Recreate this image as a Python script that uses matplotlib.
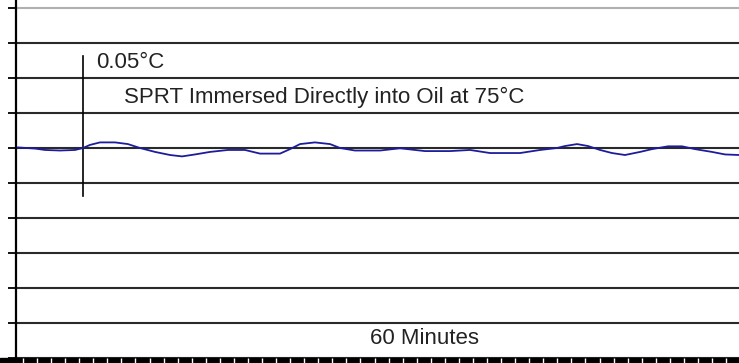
import numpy as np
import matplotlib
matplotlib.use('Agg')
import matplotlib.pyplot as plt
from matplotlib.patches import Rectangle

plt.rcParams['font.family'] = ['Liberation Sans', 'DejaVu Sans']

# SPRT reading over one hour (minutes, deg C)
minutes = [0.17, 1.58, 2.41, 3.65, 4.90, 5.56, 6.14, 6.97, 8.22, 9.29,
           10.29, 11.54, 12.78, 13.78, 14.86, 16.10, 17.59, 19.00, 20.25, 21.91,
           22.74, 23.57, 24.81, 26.06, 26.89, 28.13, 30.21, 31.87, 33.94, 36.02,
           37.68, 39.34, 41.83, 43.49, 44.90, 45.56, 46.56, 47.47, 48.47, 49.46,
           50.54, 51.79, 52.78, 54.11, 55.27, 56.35, 57.76, 58.84, 60.00]
temp = [75.0002, 74.9998, 74.9993, 74.9991, 74.9993, 75.0000, 75.0011, 75.0020, 75.0020, 75.0014,
        75.0000, 74.9986, 74.9975, 74.9970, 74.9977, 74.9986, 74.9993, 74.9993, 74.9980, 74.9980,
        74.9996, 75.0014, 75.0020, 75.0014, 75.0000, 74.9991, 74.9991, 74.9999, 74.9989, 74.9989,
        74.9993, 74.9982, 74.9982, 74.9993, 75.0000, 75.0007, 75.0014, 75.0007, 74.9993, 74.9982,
        74.9975, 74.9986, 74.9996, 75.0006, 75.0006, 74.9996, 74.9986, 74.9977, 74.9975]

grid_levels = [74.925, 74.9375, 74.95, 74.9625, 74.975, 74.9875, 75.0,
               75.0125, 75.025, 75.0375, 75.05]
scale_bar = [74.983, 75.033]   # 0.05 C
scale_x = 5.56

fig = plt.figure(figsize=(7.39, 3.63), dpi=100)
H = 363.0
ax = fig.add_axes([16 / 739, 5 / H, 723 / 739, 350 / H])
ax.set_xlim(0, 60)
ax.set_ylim(74.925, 75.05)

for lv in grid_levels[:-1]:
    ax.axhline(lv, color='#2a2a2a', lw=1.5, zorder=1)
ax.axhline(grid_levels[-1], color='#b0b0b0', lw=1.5, zorder=1, clip_on=False)

ax.plot(minutes, temp, color='#1c1c9c', lw=1.3, zorder=3)

ax.plot([scale_x, scale_x], scale_bar, color='black', lw=1.2, zorder=2)
ax.text(6.64, 75.0307, '0.05°C', fontsize=16, color='#222222', va='center', ha='left')
ax.text(8.96, 75.0182, 'SPRT Immersed Directly into Oil at 75°C', fontsize=16,
        color='#222222', va='center', ha='left')
ax.text(29.38, 74.9318, '60 Minutes', fontsize=16, color='#222222', va='center', ha='left')

for s in ['top', 'right', 'bottom']:
    ax.spines[s].set_visible(False)
ax.spines['left'].set_linewidth(1.6)
ax.spines['left'].set_bounds(74.925, 75.0525)

ax.set_yticks(grid_levels)
ax.set_yticklabels([])
ax.tick_params(axis='y', length=6, width=1.3, color='black', direction='out')

# dense black tick band under the time axis
ax.add_patch(Rectangle((0, 0), 1, 5 / H, transform=fig.transFigure, color='black',
                       clip_on=False, zorder=1))
ax.set_xticks(np.arange(0.58, 60, 1.167))
ax.set_xticklabels([])
ax.tick_params(axis='x', length=4, width=1.0, color='white', direction='out')

fig.savefig('out.png', dpi=100)
